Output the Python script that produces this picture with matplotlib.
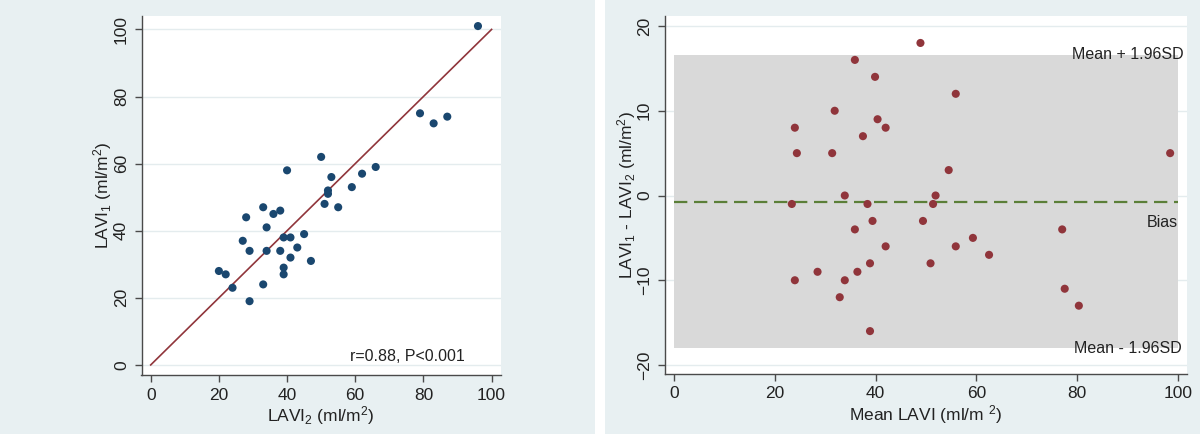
import matplotlib
matplotlib.use("Agg")
import matplotlib.pyplot as plt
from matplotlib.patches import Rectangle

plt.rcParams["font.family"] = ["Liberation Sans", "DejaVu Sans"]
plt.rcParams["mathtext.fontset"] = "custom"
plt.rcParams["mathtext.rm"] = "Liberation Sans"
plt.rcParams["mathtext.default"] = "regular"

# left panel: LAVI2 (x) vs LAVI1 (y)
lavi2 = [96, 79, 83, 87, 50, 66, 62, 40, 53, 59, 52, 52, 51, 55, 33, 38, 36, 28,
         34, 45, 39, 41, 27, 43, 29, 34, 38, 41, 47, 39, 39, 20, 22, 24, 33, 29]
lavi1 = [101, 75, 72, 74, 62, 59, 57, 58, 56, 53, 52, 51, 48, 47, 47, 46, 45, 44,
         41, 39, 38, 38, 37, 35, 34, 34, 34, 32, 31, 29, 27, 28, 27, 23, 24, 19]

# right panel: Bland-Altman
mean_lavi = [48.9, 35.9, 39.9, 55.9, 31.9, 40.4, 24.0, 42.0, 37.5, 24.4, 31.4, 98.4,
             54.5, 33.9, 51.9, 23.4, 38.4, 51.4, 39.4, 49.4, 35.9, 77.0, 59.3, 42.0,
             55.9, 62.5, 38.9, 50.9, 28.5, 36.4, 24.0, 33.9, 77.5, 32.9, 80.3, 38.9]
diff_lavi = [18, 16, 14, 12, 10, 9, 8, 8, 7, 5, 5, 5,
             3, 0, 0, -1, -1, -1, -3, -3, -4, -4, -5, -6,
             -6, -7, -8, -8, -9, -9, -10, -10, -11, -12, -13, -16]
bias = -0.75
upper_loa = 16.6
lower_loa = -18.05

xticks = [0, 20, 40, 60, 80, 100]
yticks_left = [0, 20, 40, 60, 80, 100]
yticks_right = [-20, -10, 0, 10, 20]

PANEL = "#e8f0f2"
GRID = "#e4ecee"
AXIS = "#4a4a4a"
NAVY = "#1a476f"
MAROON = "#90353b"
GREEN = "#5b7f38"


def style_axes(ax):
    ax.set_facecolor("white")
    for s in ("top", "right"):
        ax.spines[s].set_visible(False)
    for s in ("left", "bottom"):
        ax.spines[s].set_color(AXIS)
        ax.spines[s].set_linewidth(1.0)
    ax.tick_params(direction="out", length=5, width=1.0, color=AXIS,
                   labelsize=12.5, labelcolor="#222222", pad=4)
    ax.grid(axis="y", color=GRID, linewidth=1.0, zorder=0)
    ax.set_axisbelow(True)
    for lab in ax.get_yticklabels():
        lab.set_rotation(90)
        lab.set_va("center")


fig = plt.figure(figsize=(12, 4.34), dpi=100)
fig.patch.set_facecolor("white")
fig.patches.append(Rectangle((0, 0), 595 / 1200, 1, transform=fig.transFigure,
                             facecolor=PANEL, edgecolor="none", zorder=-10))
fig.patches.append(Rectangle((605 / 1200, 0), 595 / 1200, 1, transform=fig.transFigure,
                             facecolor=PANEL, edgecolor="none", zorder=-10))

# left panel
ax1 = fig.add_axes([141.5 / 1200, 59 / 434, 359.3 / 1200, 359 / 434])
ax1.set_xlim(-2.7, 102.7)
ax1.set_ylim(-3.0, 104.0)
ax1.set_xticks(xticks)
ax1.set_yticks(yticks_left)
ax1.plot([0, 100], [0, 100], color=MAROON, linewidth=1.2, zorder=2)
ax1.scatter(lavi2, lavi1, s=34, color=NAVY, edgecolors="none", zorder=3)
ax1.text(92.2, 2.4, "r=0.88, P<0.001", ha="right", va="center", fontsize=11.5,
         color="#222222")
ax1.set_xlabel("LAVI$_2$ (ml/m$^2$)", fontsize=12.5, labelpad=1, color="#222222")
ax1.set_ylabel("LAVI$_1$ (ml/m$^2$)", fontsize=12.5, labelpad=0, color="#222222")
style_axes(ax1)

# right panel
ax2 = fig.add_axes([664.6 / 1200, 60 / 434, 522.7 / 1200, 358 / 434])
ax2.set_xlim(-1.82, 101.8)
ax2.set_ylim(-21.06, 21.18)
ax2.set_xticks(xticks)
ax2.set_yticks(yticks_right)
ax2.fill_between([0, 100], lower_loa, upper_loa, color="#d9d9d9",
                 linewidth=0, zorder=1)
ax2.plot([0, 100], [bias, bias], color=GREEN, linewidth=1.6,
         dashes=(6, 3), zorder=2)
ax2.scatter(mean_lavi, diff_lavi, s=34, color=MAROON, edgecolors="none", zorder=3)
ax2.text(101, upper_loa, "Mean + 1.96SD", ha="right", va="center", fontsize=11.5,
         color="#222222")
ax2.text(99.9, bias - 2.4, "Bias", ha="right", va="center", fontsize=11.5,
         color="#222222")
ax2.text(100.7, lower_loa, "Mean - 1.96SD", ha="right", va="center", fontsize=11.5,
         color="#222222")
ax2.set_xlabel("Mean LAVI (ml/m $^2$)", fontsize=12.5, labelpad=1, color="#222222")
ax2.set_ylabel("LAVI$_1$ - LAVI$_2$ (ml/m$^2$)", fontsize=12.5, labelpad=-1,
               color="#222222")
style_axes(ax2)

fig.savefig("out.png", dpi=100, facecolor=fig.get_facecolor())
